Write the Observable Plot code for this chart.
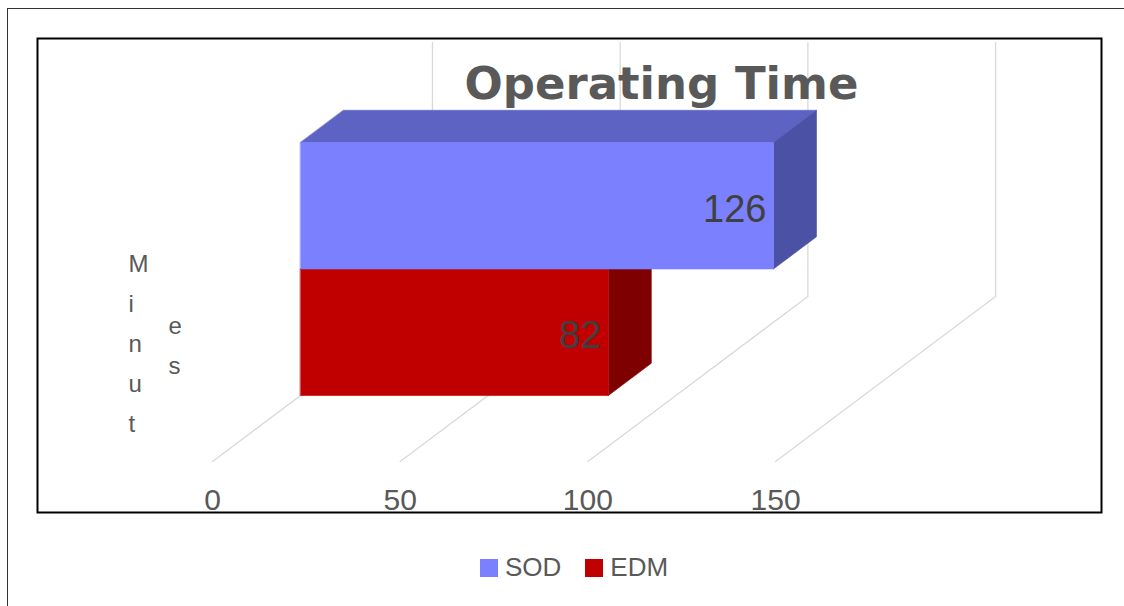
<!DOCTYPE html>
<html>
<head>
<meta charset="utf-8">
<script src="https://cdn.jsdelivr.net/npm/d3@7"></script>
<script src="https://cdn.jsdelivr.net/npm/@observablehq/plot@0.6"></script>
<style>
  html, body { margin: 0; padding: 0; background: #fff; }
  #page { position: relative; width: 1124px; height: 606px; overflow: hidden; font-family: "Liberation Sans", Arial, sans-serif; }
  #border { position: absolute; left: 7px; top: 8px; right: -10px; bottom: -10px; border-top: 1.5px solid #333; border-left: 1.5px solid #333; }
  #chart { position: absolute; left: 36px; top: 37px; }
  #legend { position: absolute; left: 480px; top: 551px; }
  .lg-swatch { margin-right: 24px !important; }
  .lg-swatch > svg { margin-right: 7px !important; }
</style>
</head>
<body>
<div id="page">
  <div id="border"></div>
  <div id="chart"></div>
  <div id="legend"></div>
</div>
<script>
// Series and values
const series = ["SOD", "EDM"];
const minutes = [126, 82];
const frontColors = ["#7b80ff", "#c00000"];
const topColors = ["#5c63c2", "#9a0000"];
const sideColors = ["#4b52a5", "#7f0000"];
const ticks = [0, 50, 100, 150];
const title = "Operating Time";
const yLabel = "Minutes";

// Oblique projection of the 3-D box: depth d in [0, 1] runs from the front
// edge of the floor to the back wall, shifting right (in value units) and up
// (in band units).
const DX = 58.6, DY = 1.3043;
const d0 = 0.4, d1 = 0.5955;   // front and back planes of the bars
const wallTop = 3.312;
const P = (v, h, d) => ({x: v + d * DX, y: h + d * DY});

const W = 1066, H = 476;

// Gridlines: along the floor, then up the back wall
const grid = ticks.flatMap(t => {
  const a = P(t, 0, 0), b = P(t, 0, 1);
  return [{t, ...a}, {t, ...b}, {t, x: b.x, y: wallTop}];
});

// Bars stack bottom-up in reverse series order (EDM below SOD)
const bars = series.map((s, i) => ({s, value: minutes[i], band: series.length - 1 - i, i}))
  .sort((a, b) => a.band - b.band);

const faceMarks = bars.flatMap(b => {
  const v = b.value, h0 = b.band, h1 = b.band + 1;
  const front = [P(0, h0, d0), P(v, h0, d0), P(v, h1, d0), P(0, h1, d0)];
  const top = [P(0, h1, d0), P(v, h1, d0), P(v, h1, d1), P(0, h1, d1)];
  const side = [P(v, h0, d0), P(v, h0, d1), P(v, h1, d1), P(v, h1, d0)];
  const face = (pts, color) => Plot.line(pts, {
    x: "x", y: "y", curve: "linear-closed",
    fill: color, stroke: color, strokeWidth: 0.6
  });
  return [face(top, topColors[b.i]), face(side, sideColors[b.i]), face(front, frontColors[b.i])];
});

const chart = Plot.plot({
  width: W,
  height: H,
  margin: 0,
  style: {fontFamily: "Liberation Sans, Arial, sans-serif", background: "transparent", overflow: "visible"},
  x: {domain: [-46.88, 237.08], axis: null},
  y: {domain: [-0.411, 3.352], axis: null},
  marks: [
    Plot.frame({stroke: "#000", strokeWidth: 2, inset: 1}),
    Plot.line(grid, {x: "x", y: "y", z: "t", stroke: "#d9d9d9", strokeWidth: 1.3}),
    ...faceMarks,
    Plot.text(bars, {
      x: d => P(d.value, 0, d0).x,
      y: d => d.band + 0.5 + d0 * DY,
      text: d => String(d.value),
      textAnchor: "end", dx: -7, dy: 4,
      fontSize: 38, fill: "#404040"
    }),
    Plot.text(ticks, {
      x: d => d, y: () => -0.308, text: d => String(d),
      fontSize: 30, fill: "#595959"
    }),
    Plot.text([title], {
      text: d => d, frameAnchor: "top", lineAnchor: "bottom", dx: 92, dy: 61,
      fontSize: 45, fontWeight: "bold", fontFamily: "DejaVu Sans", fill: "#595959"
    }),
    Plot.text([yLabel.slice(0, 5).split("").join("\n")], {
      text: d => d, frameAnchor: "left", dx: 92, dy: 64, lineHeight: 1.67,
      fontSize: 24, fill: "#595959"
    }),
    Plot.text([yLabel.slice(5).split("").join("\n")], {
      text: d => d, frameAnchor: "left", dx: 132, dy: 66, lineHeight: 1.67,
      fontSize: 24, fill: "#595959"
    })
  ]
});
document.getElementById("chart").appendChild(chart);

const legend = Plot.legend({
  color: {type: "ordinal", domain: series, range: frontColors},
  swatchSize: 18,
  className: "lg",
  style: {fontSize: "26px", fontFamily: "Liberation Sans, Arial, sans-serif", color: "#595959"}
});
document.getElementById("legend").appendChild(legend);
</script>
</body>
</html>
